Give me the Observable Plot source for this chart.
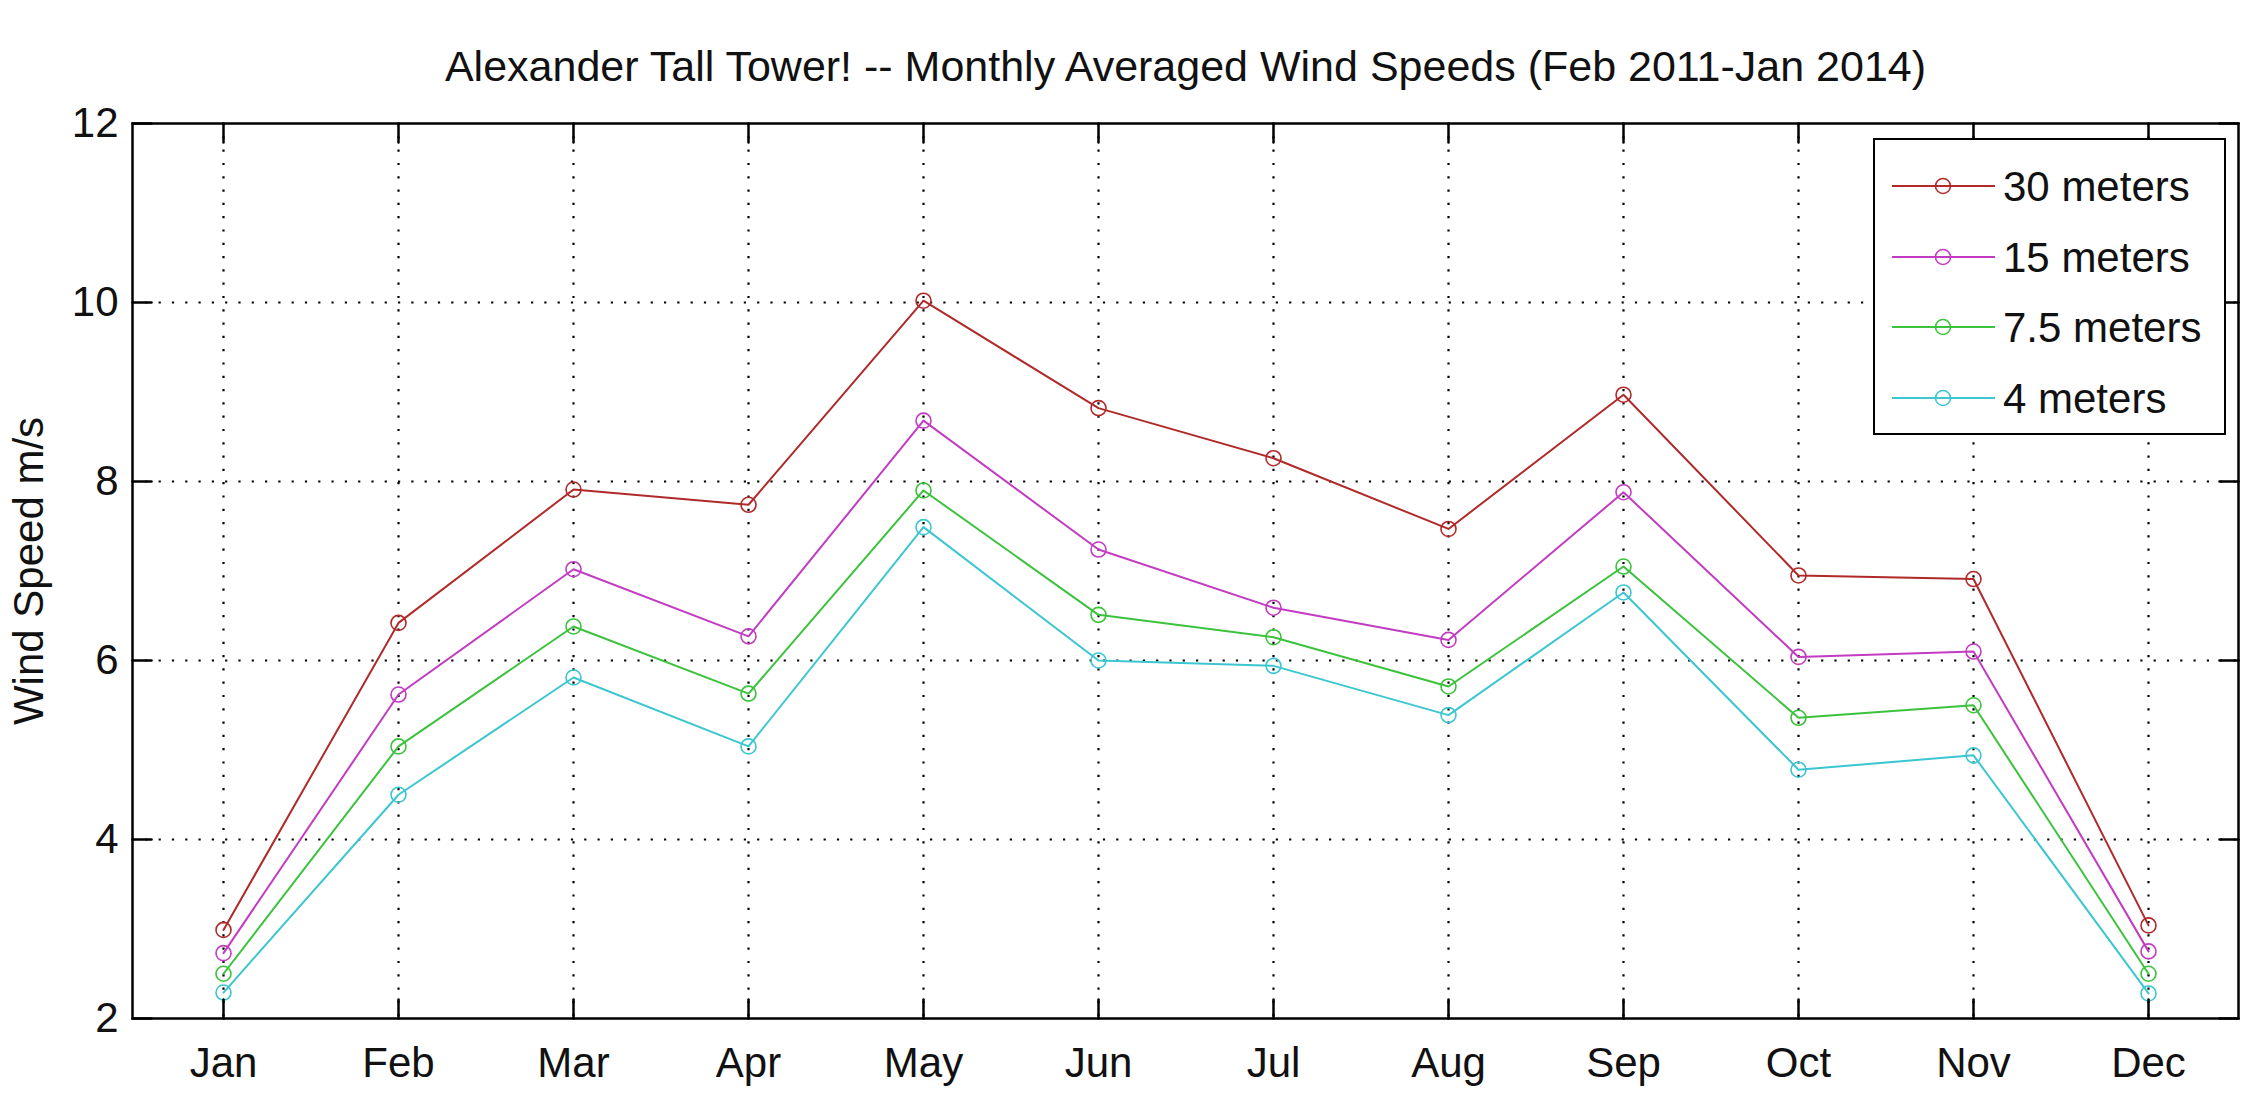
<!DOCTYPE html>
<html>
<head>
<meta charset="utf-8">
<script src="https://cdn.jsdelivr.net/npm/d3@7"></script>
<script src="https://cdn.jsdelivr.net/npm/@observablehq/plot@0.6"></script>
<style>
  html, body { margin: 0; padding: 0; background: #fff; }
  #wrap { position: relative; width: 2251px; height: 1094px; overflow: hidden; background: #fff; }
  #legend { position: absolute; left: 1873px; top: 138px; width: 353px; height: 297px; box-sizing: border-box; border: 2.5px solid #000; background: #fff; }
  #legend svg { position: absolute; left: -2.5px; top: -2.5px; }
</style>
</head>
<body>
<div id="wrap"><div id="legend"></div></div>
<script>
// ---- data ----
const months = ["Jan", "Feb", "Mar", "Apr", "May", "Jun", "Jul", "Aug", "Sep", "Oct", "Nov", "Dec"];
const seriesNames = ["30 meters", "15 meters", "7.5 meters", "4 meters"];
const seriesColors = ["#b02a2a", "#c23cc2", "#3cc23c", "#3cc6d0"];
const speed30 = [2.99, 6.42, 7.91, 7.74, 10.02, 8.82, 8.26, 7.47, 8.97, 6.95, 6.91, 3.04];
const speed15 = [2.73, 5.62, 7.02, 6.27, 8.68, 7.24, 6.59, 6.23, 7.88, 6.04, 6.10, 2.75];
const speed75 = [2.50, 5.04, 6.38, 5.63, 7.90, 6.51, 6.26, 5.71, 7.05, 5.36, 5.50, 2.50];
const speed4  = [2.29, 4.50, 5.81, 5.04, 7.49, 6.00, 5.94, 5.39, 6.76, 4.78, 4.94, 2.28];
const yTicks = [2, 4, 6, 8, 10, 12];
const yGridTicks = [4, 6, 8, 10];
const titleText = "Alexander Tall Tower! -- Monthly Averaged Wind Speeds (Feb 2011-Jan 2014)";
const yLabel = "Wind Speed m/s";

const seriesValues = [speed30, speed15, speed75, speed4];
const table = [];
seriesNames.forEach((name, i) => {
  months.forEach((m, j) => table.push({series: name, month: m, value: seriesValues[i][j]}));
});

const FONT = "'Liberation Sans', Arial, Helvetica, sans-serif";
const tickShape = {draw(context, l) { context.moveTo(0, 0); context.lineTo(0, -l); }};
const dotted = {stroke: "#000", strokeOpacity: 1, strokeWidth: 2.2, strokeDasharray: "2.2,11.1"};
const tickOpts = {length: 19, anchor: "start", shape: tickShape, stroke: "#000", strokeWidth: 2.5};

const chart = Plot.plot({
  width: 2251,
  height: 1094,
  marginLeft: 132,
  marginRight: 13,
  marginTop: 123,
  marginBottom: 76,
  style: {fontFamily: FONT, fontSize: "42px", background: "#fff", color: "#111"},
  x: {type: "point", domain: months, padding: 0.5},
  y: {domain: [2, 12]},
  color: {domain: seriesNames, range: seriesColors},
  marks: [
    Plot.gridX(months, dotted),
    Plot.gridY(yGridTicks, dotted),
    Plot.line(table, {x: "month", y: "value", z: "series", stroke: "series", strokeWidth: 2}),
    Plot.dot(table, {x: "month", y: "value", stroke: "series", r: 7.5, strokeWidth: 1.6, fill: "none"}),
    Plot.vector(months, {x: d => d, frameAnchor: "bottom", rotate: 0, ...tickOpts}),
    Plot.vector(months, {x: d => d, frameAnchor: "top", rotate: 180, ...tickOpts}),
    Plot.vector(yTicks, {y: d => d, frameAnchor: "left", rotate: 90, ...tickOpts}),
    Plot.vector(yTicks, {y: d => d, frameAnchor: "right", rotate: -90, ...tickOpts}),
    Plot.frame({stroke: "#000", strokeWidth: 2.5}),
    Plot.axisX({anchor: "bottom", tickSize: 0, tickPadding: 29, label: null, fill: "#111"}),
    Plot.axisY(yTicks, {anchor: "left", tickSize: 0, tickPadding: 14, tickFormat: d => String(d), label: yLabel, labelAnchor: "center", labelOffset: 119, labelArrow: "none", fill: "#111"}),
    Plot.text([titleText], {frameAnchor: "top", dy: -56, lineAnchor: "middle", fontSize: 43, fill: "#111"})
  ]
});
document.getElementById("wrap").prepend(chart);

// ---- legend ----
const lw = 353, lh = 297;
const rowY = [48, 119, 189, 260];
const ns = "http://www.w3.org/2000/svg";
const lsvg = document.createElementNS(ns, "svg");
lsvg.setAttribute("width", lw);
lsvg.setAttribute("height", lh);
seriesNames.forEach((name, i) => {
  const y = rowY[i];
  const line = document.createElementNS(ns, "line");
  line.setAttribute("x1", 19); line.setAttribute("x2", 122);
  line.setAttribute("y1", y); line.setAttribute("y2", y);
  line.setAttribute("stroke", seriesColors[i]); line.setAttribute("stroke-width", 2);
  lsvg.appendChild(line);
  const c = document.createElementNS(ns, "circle");
  c.setAttribute("cx", 70); c.setAttribute("cy", y); c.setAttribute("r", 7.5);
  c.setAttribute("fill", "none"); c.setAttribute("stroke", seriesColors[i]); c.setAttribute("stroke-width", 1.6);
  lsvg.appendChild(c);
  const t = document.createElementNS(ns, "text");
  t.setAttribute("x", 130); t.setAttribute("y", y + 15);
  t.setAttribute("font-family", FONT); t.setAttribute("font-size", 42); t.setAttribute("fill", "#111");
  t.textContent = name;
  lsvg.appendChild(t);
});
document.getElementById("legend").appendChild(lsvg);
</script>
</body>
</html>
